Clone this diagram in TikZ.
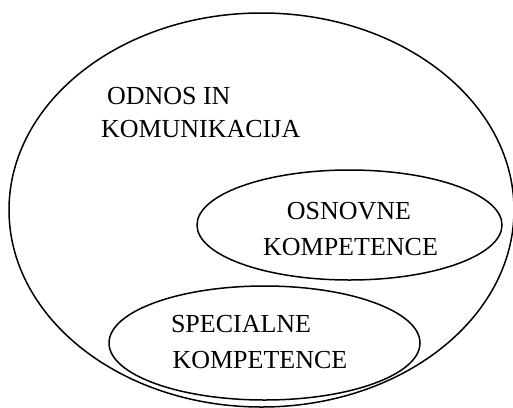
\documentclass[tikz,border=0pt]{standalone}
\usepackage{fontspec}
\setmainfont{Liberation Serif}
\begin{document}
\begin{tikzpicture}[x=1pt,y=-1pt,
  ring/.style={draw=black, line width=1.5pt},
  lbl/.style={inner sep=0pt, outer sep=0pt, font=\fontsize{26}{30}\selectfont}]
\useasboundingbox (0,0) rectangle (513,407);

% outer set and the two inner sets
\draw[ring] (261.5,210) ellipse [x radius=252.5pt, y radius=197pt];
\draw[ring] (349.5,225) ellipse [x radius=152.5pt, y radius=55pt];
\draw[ring] (264.5,343) ellipse [x radius=155.5pt, y radius=57pt];

% labels
\node[lbl, anchor=base west] (odnos) at (107,104) {ODNOS IN};
\node[lbl, anchor=base west] (komun) at (101,137) {KOMUNIKACIJA};

\node[lbl, anchor=base] (osn1) at (349,219) {OSNOVNE};
\node[lbl, anchor=base] (osn2) at (350.5,255) {KOMPETENCE};

\node[lbl, anchor=base west] (spec1) at (171,332) {SPECIALNE};
\node[lbl, anchor=base west] (spec2) at (172.5,368) {KOMPETENCE};
\end{tikzpicture}
\end{document}
